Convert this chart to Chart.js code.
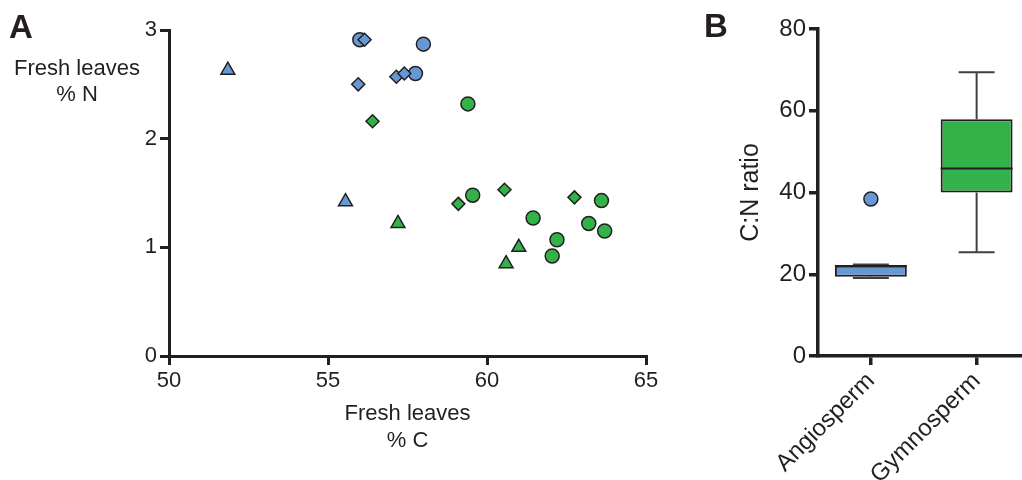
<!DOCTYPE html>
<html>
<head>
<meta charset="utf-8">
<script src="https://cdn.jsdelivr.net/npm/chart.js@4/dist/chart.umd.min.js"></script>
<style>
  body { margin: 0; width: 1022px; height: 480px; overflow: hidden; background: #fff;
         font-family: "Liberation Sans", Arial, sans-serif; color: #231f20; position: relative; }
  #chartA { position: absolute; left: 0; top: 0; }
  #chartB { position: absolute; left: 690px; top: 0; }
  .panel { position: absolute; font-weight: bold; font-size: 33px; line-height: 33px; }
  .ytitle { position: absolute; left: 10px; top: 55px; width: 134px; text-align: center;
            font-size: 22px; line-height: 26px; }
</style>
</head>
<body>
<canvas id="chartA" width="680" height="480"></canvas>
<canvas id="chartB" width="348" height="480"></canvas>
<div class="panel" style="left:9px;top:10px">A</div>
<div class="panel" style="left:704px;top:9px">B</div>
<div class="ytitle">Fresh leaves<br>% N</div>
<script>
// panel A: fresh leaves %C (x) vs %N (y)
const blueCircleC    = [56.0, 57.75, 58.0];
const blueCircleN    = [2.91, 2.60, 2.87];
const blueDiamondC   = [56.15, 55.95, 57.15, 57.4];
const blueDiamondN   = [2.91, 2.50, 2.57, 2.60];
const blueTriangleC  = [51.85, 55.55];
const blueTriangleN  = [2.63, 1.42];
const greenCircleC   = [59.4, 59.55, 61.45, 63.6, 63.2, 63.7, 62.2, 62.05];
const greenCircleN   = [2.32, 1.48, 1.27, 1.43, 1.22, 1.15, 1.07, 0.92];
const greenDiamondC  = [56.4, 59.1, 60.55, 62.75];
const greenDiamondN  = [2.16, 1.40, 1.53, 1.46];
const greenTriangleC = [57.2, 61.0, 60.6];
const greenTriangleN = [1.22, 1.00, 0.85];

// panel B: C:N ratio box plot
const boxLabels  = ['Angiosperm', 'Gymnosperm'];
const boxMin     = [19.1, 25.4];
const boxQ1      = [19.4, 40.0];
const boxMedian  = [22.0, 45.9];
const boxQ3      = [22.1, 57.9];
const boxMax     = [22.4, 69.4];
const boxOutlier = [38.4, null];

const ink   = '#231f20';
const blue  = '#6699d4';
const green = '#33b24a';

const pts = (xs, ys) => xs.map((x, i) => ({ x, y: ys[i] }));
const marker = (label, xs, ys, color, style, r) => ({
  label, data: pts(xs, ys), pointStyle: style, pointRadius: r,
  backgroundColor: color, borderColor: ink, borderWidth: 1.5
});

// first dataset is drawn on top, so diamonds go first
new Chart(document.getElementById('chartA'), {
  type: 'scatter',
  data: {
    datasets: [
      marker('Angiosperm diamond', blueDiamondC, blueDiamondN, blue, 'rectRot', 6.5),
      marker('Gymnosperm diamond', greenDiamondC, greenDiamondN, green, 'rectRot', 6.5),
      marker('Angiosperm circle', blueCircleC, blueCircleN, blue, 'circle', 7),
      marker('Gymnosperm circle', greenCircleC, greenCircleN, green, 'circle', 7),
      marker('Angiosperm triangle', blueTriangleC, blueTriangleN, blue, 'triangle', 8),
      marker('Gymnosperm triangle', greenTriangleC, greenTriangleN, green, 'triangle', 8)
    ]
  },
  options: {
    responsive: false,
    animation: false,
    layout: { padding: { left: 0, top: 30, right: 34, bottom: 0 } },
    plugins: { legend: { display: false }, tooltip: { enabled: false } },
    scales: {
      x: {
        type: 'linear', min: 50, max: 65,
        ticks: { stepSize: 5, color: ink, font: { size: 22, family: 'Liberation Sans' }, padding: 3 },
        border: { color: ink, width: 3 },
        grid: { drawOnChartArea: false, tickLength: 9, color: ink, lineWidth: 3 },
        title: { display: true, text: ['Fresh leaves', '% C'], color: ink,
                 font: { size: 22, family: 'Liberation Sans', lineHeight: 1.2 }, padding: { bottom: 26 } },
        afterFit: s => { s.height = 124; }
      },
      y: {
        min: 0, max: 3,
        ticks: { stepSize: 1, color: ink, font: { size: 22, family: 'Liberation Sans' }, padding: 3 },
        border: { color: ink, width: 3 },
        grid: { drawOnChartArea: false, tickLength: 9, color: ink, lineWidth: 3 },
        afterFit: s => { s.width = 169; }
      }
    }
  }
});

// whiskers and median on top of the floating bars
const whiskers = {
  id: 'whiskers',
  afterDatasetsDraw(chart) {
    const { ctx, scales: { y } } = chart;
    const bars = chart.getDatasetMeta(0).data;
    ctx.save();
    bars.forEach((bar, i) => {
      const x = bar.x, half = bar.width / 2, cap = bar.width / 4;
      ctx.strokeStyle = '#404040';
      ctx.lineWidth = 2;
      ctx.beginPath();
      ctx.moveTo(x, y.getPixelForValue(boxQ3[i]));
      ctx.lineTo(x, y.getPixelForValue(boxMax[i]));
      ctx.moveTo(x - cap, y.getPixelForValue(boxMax[i]));
      ctx.lineTo(x + cap, y.getPixelForValue(boxMax[i]));
      ctx.moveTo(x, y.getPixelForValue(boxQ1[i]));
      ctx.lineTo(x, y.getPixelForValue(boxMin[i]));
      ctx.moveTo(x - cap, y.getPixelForValue(boxMin[i]));
      ctx.lineTo(x + cap, y.getPixelForValue(boxMin[i]));
      ctx.stroke();
      ctx.strokeStyle = ink;
      ctx.beginPath();
      ctx.moveTo(x - half, y.getPixelForValue(boxMedian[i]));
      ctx.lineTo(x + half, y.getPixelForValue(boxMedian[i]));
      ctx.stroke();
    });
    ctx.restore();
  }
};

new Chart(document.getElementById('chartB'), {
  type: 'bar',
  data: {
    labels: boxLabels,
    datasets: [
      {
        label: 'C:N ratio',
        data: boxQ1.map((q, i) => [q, boxQ3[i]]),
        backgroundColor: [blue, green], borderColor: ink, borderWidth: 2,
        borderSkipped: false, barPercentage: 0.68, categoryPercentage: 1
      },
      {
        type: 'line', label: 'Outlier', data: boxOutlier, showLine: false,
        pointRadius: 7, backgroundColor: blue, borderColor: ink, borderWidth: 1.5
      }
    ]
  },
  options: {
    responsive: false,
    animation: false,
    layout: { padding: { left: 0, top: 29, right: 0, bottom: 0 } },
    plugins: { legend: { display: false }, tooltip: { enabled: false } },
    scales: {
      x: {
        ticks: { color: ink, font: { size: 24, family: 'Liberation Sans' }, minRotation: 45, maxRotation: 45, padding: 2 },
        border: { color: ink, width: 3.5 },
        grid: { drawOnChartArea: false, offset: false, tickLength: 9, color: ink, lineWidth: 3.5 },
        afterFit: s => { s.height = 124; s.paddingLeft = 0; s.paddingRight = 0; }
      },
      y: {
        min: 0, max: 80,
        ticks: { stepSize: 20, color: ink, font: { size: 24, family: 'Liberation Sans' }, padding: 3 },
        border: { color: ink, width: 3.5 },
        grid: { drawOnChartArea: false, tickLength: 9, color: ink, lineWidth: 3.5 },
        title: { display: true, text: 'C:N ratio', color: ink,
                 font: { size: 25, family: 'Liberation Sans', lineHeight: 1.2 }, padding: { top: 46 } },
        afterFit: s => { s.width = 128; }
      }
    }
  },
  plugins: [whiskers]
});
</script>
</body>
</html>
